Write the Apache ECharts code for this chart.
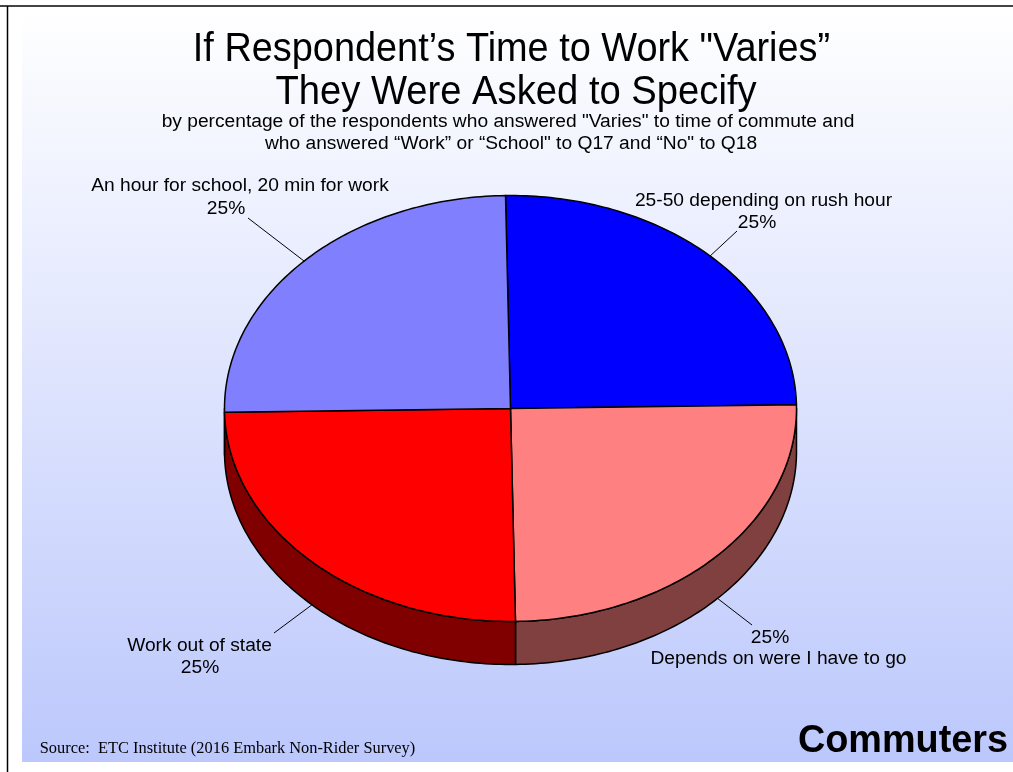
<!DOCTYPE html>
<html><head><meta charset="utf-8">
<style>html,body{margin:0;padding:0;background:#fff}#c{width:1013px;height:772px}</style>
<script src="https://cdn.jsdelivr.net/npm/echarts@6/dist/echarts.min.js"></script>
</head><body><div id="c"></div>
<script>
const categories = ['25-50 depending on rush hour','Depends on were I have to go','Work out of state','An hour for school, 20 min for work'];
const shares = [25,25,25,25];
const shareLabels = ['25%','25%','25%','25%'];
const topColors = ['#0000ff','#ff8080','#ff0000','#8080ff'];
const wallColors = ['#000080','#804040','#800000','#404080'];
const titleLines = ['If Respondent\u2019s Time to Work "Varies\u201d','They Were Asked to Specify'];
const subtitleLines = ['by percentage of the respondents who answered "Varies" to time of commute and','who answered \u201cWork\u201d or \u201cSchool" to Q17 and \u201cNo" to Q18'];
const sourceText = 'Source:  ETC Institute (2016 Embark Non-Rider Survey)';
const tagText = 'Commuters';

const P = {cx:510.5, cy:408.5, rx:286, ry:213, depth:43, start:-1};
function pt(a, dy){const r=a*Math.PI/180;return [P.cx+P.rx*Math.sin(r), P.cy-P.ry*Math.cos(r)+(dy||0)];}
function arc(a0,a1,dy){const o=[],n=Math.max(2,Math.ceil(Math.abs(a1-a0)));for(let i=0;i<=n;i++)o.push(pt(a0+(a1-a0)*i/n,dy));return o;}
const total = shares.reduce((a,b)=>a+b,0);
function startOf(i){let s=0;for(let k=0;k<i;k++)s+=shares[k];return P.start+s/total*360;}

function renderSlice(params, api){
  const i=params.dataIndex, a0=startOf(i), a1=a0+api.value(1)/total*360;
  const children=[];
  const s=Math.max(a0,90), e=Math.min(a1,270);
  if(e>s){
    const top=arc(s,e,0), bot=arc(e,s,P.depth);
    children.push({type:'polygon',z2:1,shape:{points:top.concat(bot)},style:{fill:wallColors[i],stroke:'#000',lineWidth:1.5,lineJoin:'round'}});
  }
  children.push({type:'polygon',z2:2,shape:{points:[[P.cx,P.cy]].concat(arc(a0,a1,0))},style:{fill:topColors[i],stroke:'#000',lineWidth:1.5,lineJoin:'round'}});
  return {type:'group',children};
}
const txt=(t,x,y,size,sx,family,weight)=>({type:'text',x,y,scaleX:sx||1,silent:true,style:{text:t,fill:'#000',font:`${weight||'normal'} ${size}px "${family||'Liberation Sans'}"`,textAlign:'center',textVerticalAlign:'middle'}});
const line=(a,b,c,d,w,col)=>({type:'line',silent:true,shape:{x1:a,y1:b,x2:c,y2:d},style:{stroke:col||'#000',lineWidth:w||1}});
const LS=18, LX=1.066;
const chart=echarts.init(document.getElementById('c'),null,{renderer:'canvas'});
chart.setOption({
  animation:false,
  graphic:[
    {type:'rect',silent:true,z:-10,shape:{x:22,y:8,width:991,height:754},style:{fill:new echarts.graphic.LinearGradient(0,0,0,1,[{offset:0,color:'#ffffff'},{offset:1,color:'#bcc8fc'}])}},
    line(0,6,1013,6,2,'#444'), line(7.5,6,7.5,772,1.5,'#000'),
    txt(titleLines[0],511.5,50,40,0.947), txt(titleLines[1],516,93,40,0.955),
    txt(subtitleLines[0],508,122,LS,LX), txt(subtitleLines[1],511,144,LS,LX),
    txt(categories[3],240,186,LS,LX), txt(shareLabels[3],226,209,LS,LX),
    txt(categories[0],763.5,201,LS,LX), txt(shareLabels[0],757,223,LS,LX),
    txt(shareLabels[1],770,638.5,LS,LX), txt(categories[1],778.5,659,LS,LX),
    txt(categories[2],199.5,646.5,LS,LX), txt(shareLabels[2],200,668.5,LS,LX),
    line(248,218,304,261), line(737,231,709,257), line(752,625,717,598), line(274,633,313,604),
    txt(sourceText,227.5,749,16.4,1,'Liberation Serif'),
    txt(tagText,903,741,39,0.97,'Liberation Sans','bold')
  ],
  series:[{type:'custom',coordinateSystem:'none',renderItem:renderSlice,data:shares.map((v,i)=>[i,v]),silent:true}]
});
</script></body></html>
